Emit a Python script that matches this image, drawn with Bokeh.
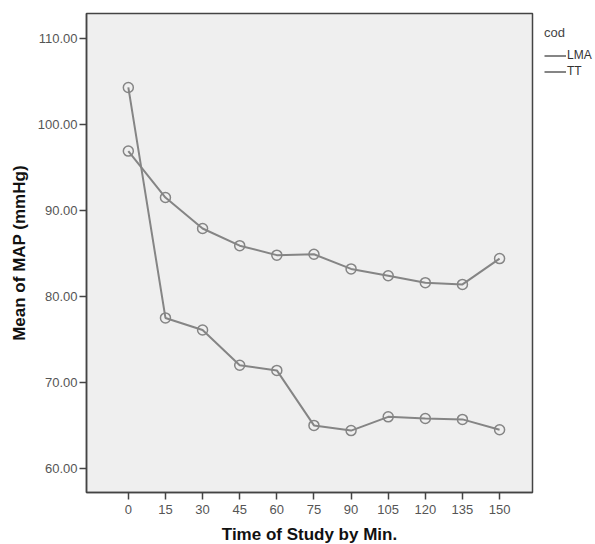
from bokeh.plotting import figure
from bokeh.models import FixedTicker, NumeralTickFormatter, Legend, LegendItem, Range1d
from bokeh.embed import file_html
from bokeh.resources import INLINE

times = [0, 15, 30, 45, 60, 75, 90, 105, 120, 135, 150]
lma = [96.9, 91.5, 87.9, 85.9, 84.8, 84.9, 83.2, 82.4, 81.6, 81.4, 84.4]
tt = [104.3, 77.5, 76.1, 72.0, 71.4, 65.0, 64.4, 66.0, 65.8, 65.7, 64.5]
y_ticks = [60, 70, 80, 90, 100, 110]

FONT = "Liberation Sans"
GRAY = "#858585"

p = figure(output_backend="svg", toolbar_location=None,
           frame_width=446, frame_height=479,
           min_border_left=86, min_border_top=13, min_border_bottom=52, min_border_right=0,
           x_range=Range1d(-16.9, 163.3), y_range=Range1d(57.2, 112.9))
p.background_fill_color = "#efefef"
p.border_fill_color = "white"
p.outline_line_color = "#444444"
p.outline_line_width = 1.5
p.grid.visible = False

r1 = p.line(times, lma, line_color=GRAY, line_width=2)
c1 = p.scatter(times, lma, size=10, marker="circle", fill_color=None, line_color=GRAY, line_width=1.5)
r2 = p.line(times, tt, line_color=GRAY, line_width=2)
c2 = p.scatter(times, tt, size=10, marker="circle", fill_color=None, line_color=GRAY, line_width=1.5)

for ax in (p.xaxis[0], p.yaxis[0]):
    ax.axis_line_color = "#444444"
    ax.axis_line_width = 1.5
    ax.major_tick_in = 0
    ax.major_tick_out = 7
    ax.major_tick_line_color = "#444444"
    ax.major_tick_line_width = 1.5
    ax.minor_tick_line_color = None
    ax.major_label_text_font = FONT
    ax.major_label_text_font_size = "13px"
    ax.major_label_text_color = "#555555"
    ax.axis_label_text_font = FONT
    ax.axis_label_text_font_size = "17px"
    ax.axis_label_text_font_style = "bold"
    ax.axis_label_text_color = "#111111"

p.xaxis[0].ticker = FixedTicker(ticks=times)
p.xaxis[0].axis_label = "Time of Study by Min."
p.xaxis[0].major_label_standoff = 5
p.xaxis[0].axis_label_standoff = 8
p.yaxis[0].ticker = FixedTicker(ticks=y_ticks)
p.yaxis[0].formatter = NumeralTickFormatter(format="0.00")
p.yaxis[0].axis_label = "Mean of MAP (mmHg)"
p.yaxis[0].major_label_standoff = 2
p.yaxis[0].axis_label_standoff = 6

legend = Legend(items=[LegendItem(label="LMA", renderers=[r1]), LegendItem(label="TT", renderers=[r2])],
                title="cod", location="top_left", orientation="vertical")
legend.title_text_font = FONT
legend.title_text_font_size = "13px"
legend.title_text_font_style = "normal"
legend.title_text_color = "#444444"
legend.title_standoff = 8
legend.label_text_font = FONT
legend.label_text_font_size = "12px"
legend.label_text_color = "#333333"
legend.label_standoff = 1
legend.glyph_width = 22
legend.glyph_height = 13
legend.label_height = 13
legend.spacing = 2
legend.padding = 2
legend.margin = 12
legend.border_line_color = None
legend.background_fill_alpha = 0
p.add_layout(legend, "right")

open("out.html", "w").write(file_html(p, INLINE))
